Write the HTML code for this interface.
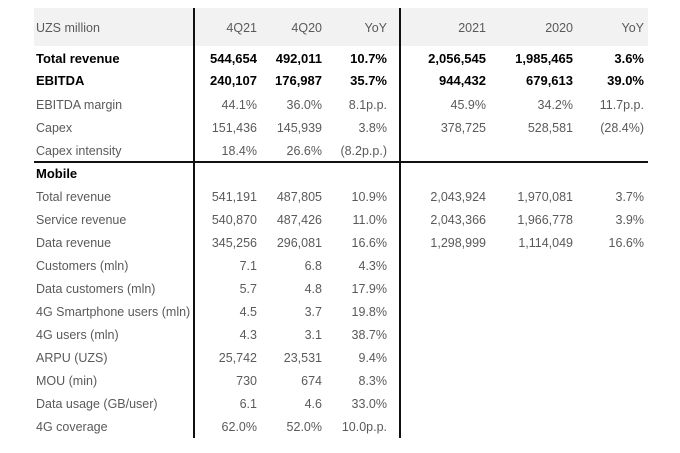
<!DOCTYPE html>
<html><head><meta charset="utf-8"><style>
body{margin:0;width:680px;height:453px;background:#fff;position:relative;overflow:hidden;font-family:"Liberation Sans",sans-serif;font-size:12.5px;color:#5a5a5a}
.hd{position:absolute;left:34px;top:8px;width:614px;height:38px;background:#f2f2f2}
.v{position:absolute;width:2px;background:#111;top:8px;height:430px}
.h{position:absolute;left:34px;width:614px;top:161px;height:2px;background:#111}
.r{position:absolute;left:0;width:680px;height:20px;line-height:20px}
.r span{position:absolute;white-space:nowrap}
.l{left:36px}
.b{color:#000;font-weight:bold;font-size:13px}
</style></head><body>
<div class="hd"></div>
<div class="v" style="left:193px"></div>
<div class="v" style="left:399px"></div>
<div class="h"></div>
<div id="t"></div>
<script>
const rows=[
[18,"UZS million","4Q21","4Q20","YoY","2021","2020","YoY",0],
[49,"Total revenue","544,654","492,011","10.7%","2,056,545","1,985,465","3.6%",1],
[71,"EBITDA","240,107","176,987","35.7%","944,432","679,613","39.0%",1],
[95,"EBITDA margin","44.1%","36.0%","8.1p.p.","45.9%","34.2%","11.7p.p.",0],
[118,"Capex","151,436","145,939","3.8%","378,725","528,581","(28.4%)",0],
[141,"Capex intensity","18.4%","26.6%","(8.2p.p.)","","","",0],
[164,"Mobile","","","","","","",2],
[187,"Total revenue","541,191","487,805","10.9%","2,043,924","1,970,081","3.7%",0],
[210,"Service revenue","540,870","487,426","11.0%","2,043,366","1,966,778","3.9%",0],
[233,"Data revenue","345,256","296,081","16.6%","1,298,999","1,114,049","16.6%",0],
[256,"Customers (mln)","7.1","6.8","4.3%","","","",0],
[279,"Data customers (mln)","5.7","4.8","17.9%","","","",0],
[302,"4G Smartphone users (mln)","4.5","3.7","19.8%","","","",0],
[325,"4G users (mln)","4.3","3.1","38.7%","","","",0],
[348,"ARPU (UZS)","25,742","23,531","9.4%","","","",0],
[371,"MOU (min)","730","674","8.3%","","","",0],
[394,"Data usage (GB/user)","6.1","4.6","33.0%","","","",0],
[417,"4G coverage","62.0%","52.0%","10.0p.p.","","","",0]];
const R=[257,322,387,486,573,644];
let h="";
for(const r of rows){
 const cls=r[8]?' b':'';
 h+=`<div class="r${cls}" style="top:${r[0]}px"><span class="l">${r[1]}</span>`;
 for(let i=0;i<6;i++) if(r[i+2]) h+=`<span style="right:${680-R[i]}px">${r[i+2]}</span>`;
 h+=`</div>`;
}
document.getElementById("t").innerHTML=h;
</script>
</body></html>
